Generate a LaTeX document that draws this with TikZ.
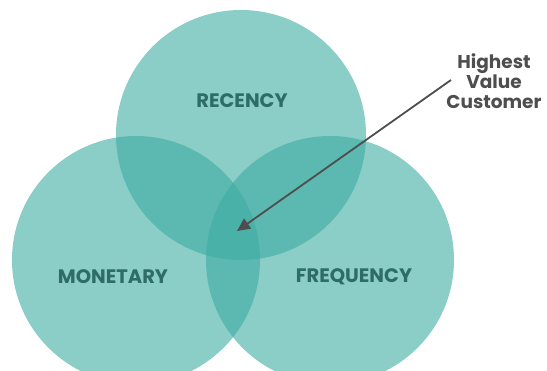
\documentclass[tikz,border=0pt]{standalone}
\usepackage{fontspec}
\setmainfont{Poppins}
\usetikzlibrary{arrows.meta}
\definecolor{vennteal}{RGB}{62,172,163}
\definecolor{labelc}{RGB}{45,108,103}
\definecolor{arrowc}{RGB}{78,78,78}
\begin{document}
\begin{tikzpicture}[x=1pt,y=-1pt,
  venn/.style={circle, inner sep=0pt, fill=vennteal, fill opacity=0.6, minimum size=#1},
  lbl/.style={font=\bfseries\fontsize{19.5}{22}\selectfont, text=labelc},
  note/.style={font=\bfseries\fontsize{18.5}{20}\selectfont, text=arrowc, align=center},
  ptr/.style={draw=arrowc, line width=1.8pt, -{Triangle[length=13pt,width=12pt]}}]
\useasboundingbox (0,0) rectangle (547,371);
\fill[white] (0,0) rectangle (547,371);
\node[venn=250pt] (rc) at (241,135) {};
\node[venn=248pt] (mc) at (136,260) {};
\node[venn=248pt] (fc) at (330,260) {};
\node[lbl] (rec) at (242,101) {RECENCY};
\node[lbl] (mon) at (113,277) {MONETARY};
\node[lbl] (fre) at (354,277) {FREQUENCY};
\node[note] (hvc) at (494,81) {Highest\\Value\\Customer};
\coordinate (tail) at (451,80);
\coordinate (tip) at (237,231);
\draw[ptr] (tail) -- (tip);
\end{tikzpicture}
\end{document}
